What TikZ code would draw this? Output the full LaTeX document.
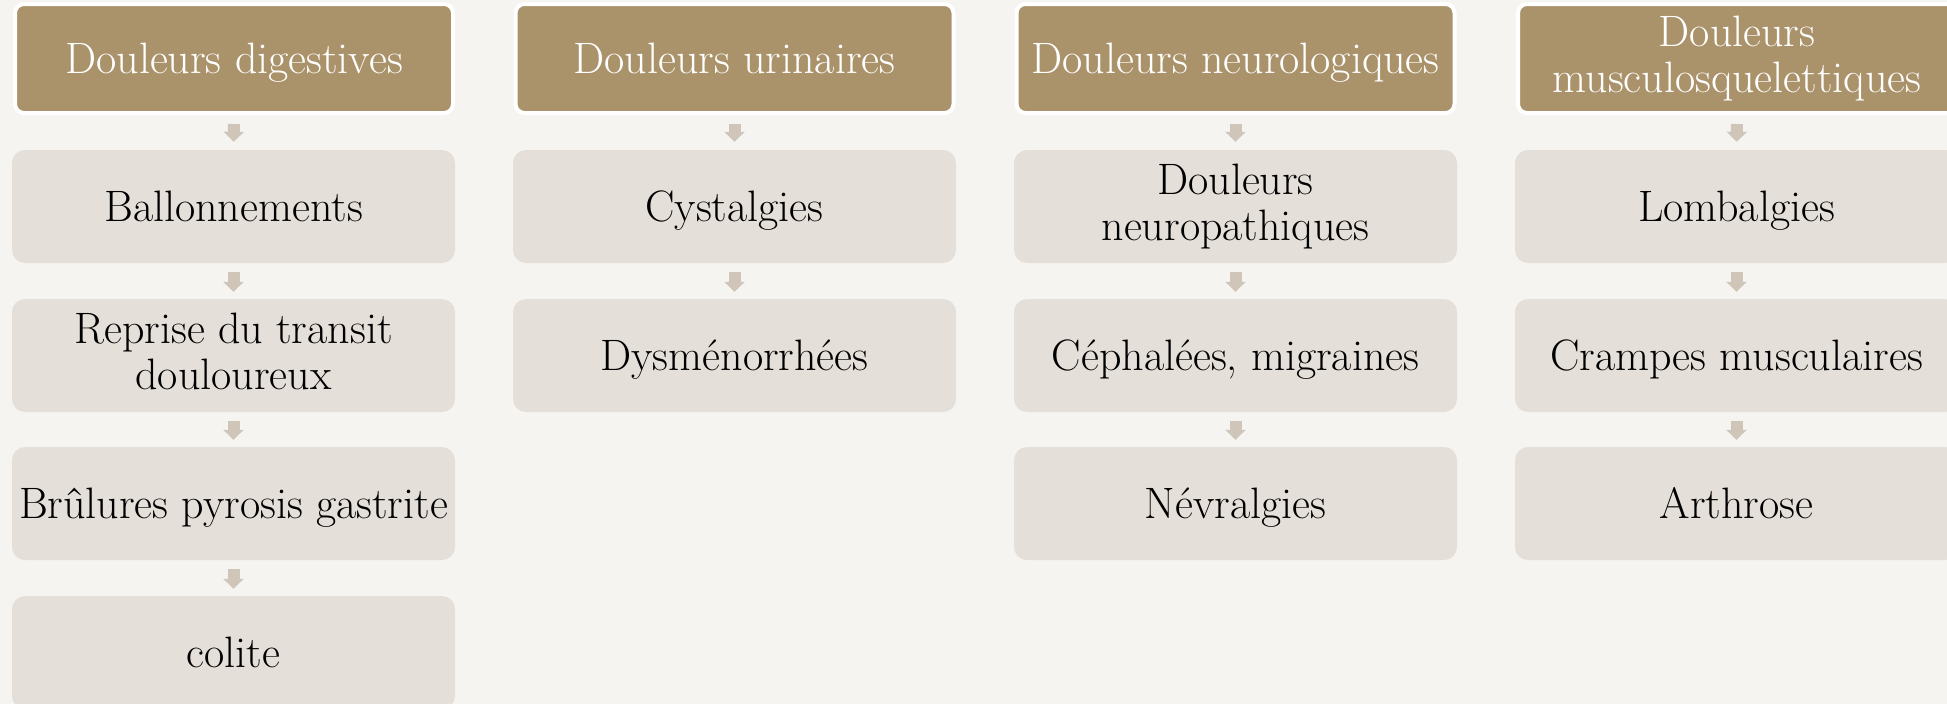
\documentclass[tikz,border=0pt]{standalone}
\usepackage{fontspec}
\usetikzlibrary{arrows.meta}
\definecolor{bgcol}{RGB}{245,244,241}
\definecolor{headcol}{RGB}{170,147,107}
\definecolor{bodycol}{RGB}{228,223,216}
\definecolor{arrcol}{RGB}{207,198,185}
\newcommand\myTopStrut{\rule{0pt}{38pt}}
\newcommand\myBotStrut{\rule[-8pt]{0pt}{8pt}}
\tikzset{
  boxtext/.style={inner sep=0pt, align=center, font=\fontsize{44}{46}\selectfont,
    execute at begin node=\myTopStrut, execute at end node=\myBotStrut},
  headbox/.style={boxtext, rectangle, rounded corners=9pt, fill=headcol, draw=white, line width=4pt,
    minimum width=438pt, minimum height=109pt, text=white},
  bodybox/.style={boxtext, rectangle, rounded corners=13pt, fill=bodycol, draw=none,
    minimum width=443pt, minimum height=113pt, text=black},
  conn/.style={draw=arrcol, line width=12pt,
    -{Triangle[width=20pt,length=10pt]}},
  connh/.style={conn, shorten <=9pt, shorten >=8pt},
  connb/.style={conn, shorten <=9pt, shorten >=7pt}
}
\begin{document}
\begin{tikzpicture}[x=1pt,y=-1pt]
\useasboundingbox (0,0) rectangle (1947,704);
\clip (0,0) rectangle (1947,704);
\fill[bgcol] (0,0) rectangle (1947,704);
% column 1
\node[headbox] (h1) at (234,58.5) {Douleurs digestives};
\node[bodybox] (a1) at (233.5,206.5) {Ballonnements};
\node[bodybox] (a2) at (233.5,355.5) {Reprise du transit\\douloureux};
\node[bodybox] (a3) at (233.5,503.5) {Brûlures pyrosis gastrite};
\node[bodybox] (a4) at (233.5,652.5) {colite};
% column 2
\node[headbox] (h2) at (734.5,58.5) {Douleurs urinaires};
\node[bodybox] (b1) at (734.5,206.5) {Cystalgies};
\node[bodybox] (b2) at (734.5,355.5) {Dysménorrhées};
% column 3
\node[headbox] (h3) at (1235.5,58.5) {Douleurs neurologiques};
\node[bodybox] (c1) at (1235.5,206.5) {Douleurs\\neuropathiques};
\node[bodybox] (c2) at (1235.5,355.5) {Céphalées, migraines};
\node[bodybox] (c3) at (1235.5,503.5) {Névralgies};
% column 4
\node[headbox] (h4) at (1737,58.5) {Douleurs\\musculosquelettiques};
\node[bodybox] (d1) at (1736.5,206.5) {Lombalgies};
\node[bodybox] (d2) at (1736.5,355.5) {Crampes musculaires};
\node[bodybox] (d3) at (1736.5,503.5) {Arthrose};
% connectors
\draw[connh] (h1.south) -- (a1.north);
\draw[connb] (a1.south) -- (a2.north);
\draw[connb] (a2.south) -- (a3.north);
\draw[connb] (a3.south) -- (a4.north);
\draw[connh] (h2.south) -- (b1.north);
\draw[connb] (b1.south) -- (b2.north);
\draw[connh] (h3.south) -- (c1.north);
\draw[connb] (c1.south) -- (c2.north);
\draw[connb] (c2.south) -- (c3.north);
\draw[connh] (h4.south) -- (d1.north);
\draw[connb] (d1.south) -- (d2.north);
\draw[connb] (d2.south) -- (d3.north);
\end{tikzpicture}
\end{document}
